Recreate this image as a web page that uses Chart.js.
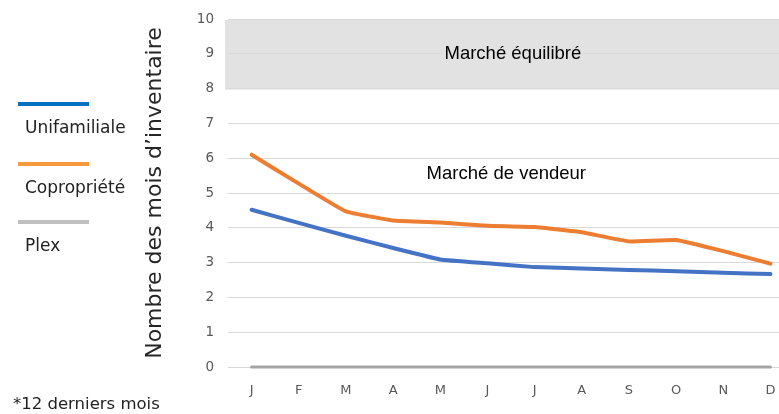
<!DOCTYPE html>
<html>
<head>
<meta charset="utf-8">
<script src="https://cdn.jsdelivr.net/npm/chart.js@4"></script>
<style>
  body { margin: 0; background: #fff; overflow: hidden; }
  #wrap { position: relative; width: 779px; height: 414px; overflow: hidden; }
  #box { position: absolute; left: 0; top: 0; width: 794px; height: 414px; }
  #legende { position: absolute; left: 0; top: 0; font-family: "DejaVu Sans", sans-serif; font-size: 17px; color: #222; }
  .item { position: absolute; left: 18px; }
  .trait { width: 71px; height: 4px; }
  .nom { position: absolute; left: 7px; top: 15px; white-space: nowrap; }
  #note { position: absolute; left: 13px; top: 394px; font-family: "DejaVu Sans", sans-serif; font-size: 16.5px; color: #222; }
</style>
</head>
<body>
<div id="wrap">
  <div id="box"><canvas id="graphique" width="794" height="414"></canvas></div>
  <div id="legende"></div>
  <div id="note">*12 derniers mois</div>
</div>
<script>
const mois = ["J", "F", "M", "A", "M", "J", "J", "A", "S", "O", "N", "D"]
const unifamiliale = [4.52, 4.14, 3.77, 3.42, 3.09, 2.98, 2.87, 2.83, 2.79, 2.75, 2.71, 2.67]
const copropriete = [6.1, 5.27, 4.47, 4.21, 4.15, 4.06, 4.02, 3.87, 3.61, 3.65, 3.33, 2.97]
const plex = [0, 0, 0, 0, 0, 0, 0, 0, 0, 0, 0, 0]

const noms = ["Unifamiliale", "Copropriété", "Plex"]
const couleurs = ["#4472c4", "#ed7d31", "#a5a5a5"]
const couleursLegende = ["#0070c0", "#f79a3b", "#bfbfbf"]

// zone "Marché équilibré" entre 8 et 10 mois
const zoneMin = 8
const zoneMax = 10

// legende a gauche
const legende = document.getElementById("legende")
const hauts = [102, 162, 220]
noms.forEach((n, i) => {
    legende.innerHTML += `<div class="item" style="top:${hauts[i]}px">
        <div class="trait" style="background:${couleursLegende[i]}"></div>
        <div class="nom">${n}</div></div>`
})

const zones = {
    id: "zones",
    beforeDraw(chart) {
        const { ctx, chartArea, scales } = chart
        const y = scales.y
        ctx.save()
        ctx.fillStyle = "#e2e2e2"
        ctx.fillRect(chartArea.left - 3, y.getPixelForValue(zoneMax) + 1, chartArea.right - chartArea.left + 3,
            y.getPixelForValue(zoneMin) - y.getPixelForValue(zoneMax))
        ctx.restore()
    },
    beforeDatasetsDraw(chart) {
        const { ctx, scales } = chart
        const x = scales.x, y = scales.y
        ctx.save()
        ctx.font = "18.5px 'Liberation Sans', Arial, sans-serif"
        ctx.textAlign = "center"
        ctx.textBaseline = "middle"
        const xa = x.getPixelForValue(5.54)
        const ya = y.getPixelForValue(9)
        const w = ctx.measureText("Marché équilibré").width
        ctx.fillStyle = "#e2e2e2"
        ctx.fillRect(xa - w / 2 - 2, ya - 10, w + 4, 20)
        ctx.fillStyle = "#000"
        ctx.fillText("Marché équilibré", xa, ya)
        ctx.fillText("Marché de vendeur", x.getPixelForValue(5.4), y.getPixelForValue(5.56))
        ctx.restore()
    }
}

const series = [unifamiliale, copropriete, plex]

new Chart(document.getElementById("graphique"), {
    type: "line",
    data: {
        labels: mois,
        datasets: series.map((s, i) => ({
            label: noms[i],
            data: s,
            borderColor: couleurs[i],
            borderWidth: i === 2 ? 3 : 4,
            pointRadius: 0,
            tension: 0.1,
            clip: 6,
            borderJoinStyle: "round",
            borderCapStyle: "round",
            fill: false
        })).reverse()
    },
    options: {
        responsive: false,
        animation: false,
        devicePixelRatio: 1,
        layout: { padding: { left: 142, top: 19, right: 0, bottom: 0 } },
        plugins: { legend: { display: false }, tooltip: { enabled: false } },
        scales: {
            x: {
                offset: true,
                grid: { display: false },
                border: { display: false },
                ticks: { color: "#595959", padding: 8, font: { family: "DejaVu Sans", size: 13 } },
                afterFit(scale) { scale.height = 47 }
            },
            y: {
                min: 0,
                max: 10,
                ticks: { stepSize: 1, color: "#595959", padding: 14, font: { family: "DejaVu Sans", size: 13.5 } },
                grid: { color: "#d9d9d9", lineWidth: 1, drawTicks: false },
                border: { display: false },
                title: {
                    display: true,
                    text: "Nombre des mois d’inventaire",
                    color: "#262626",
                    padding: 0,
                    font: { family: "DejaVu Sans", size: 22, weight: "normal" }
                },
                afterFit(scale) {
                    scale.width = 228 - 142
                    scale.paddingTop = 0
                    scale.paddingBottom = 0
                }
            }
        }
    },
    plugins: [zones]
})
</script>
</body>
</html>
